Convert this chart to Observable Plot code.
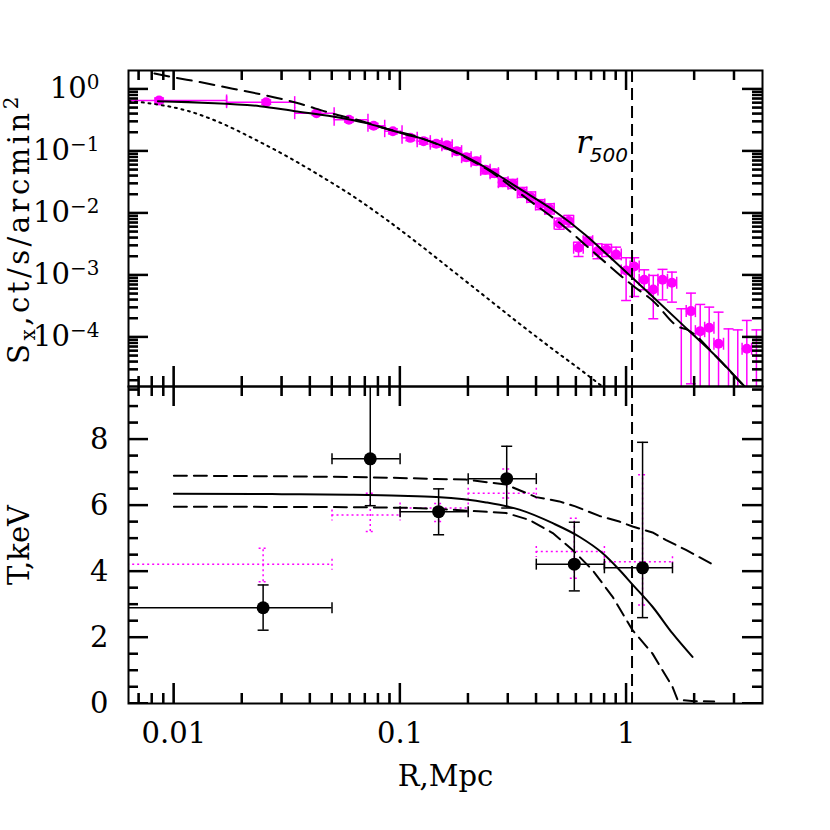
<!DOCTYPE html>
<html><head><meta charset="utf-8">
<script src="https://cdn.jsdelivr.net/npm/d3@7"></script>
<script src="https://cdn.jsdelivr.net/npm/@observablehq/plot@0.6"></script>
<style>
body{margin:0;background:#fff;}
#wrap{position:relative;width:830px;height:830px;background:#fff;}
#wrap > svg{position:absolute;left:0;overflow:visible;background:transparent;}
</style></head><body><div id="wrap"></div>
<script>
// ---------------- data ----------------
const R500 = 1.06;
// surface brightness profile (top panel)
const sbR   = [0.0086,0.0256,0.0427,0.0594,0.0764,0.0929,0.111,0.127,0.1445,0.161,0.178,0.196,0.217,0.238,0.261,0.284,0.315,0.347,0.379,0.416,0.457,0.506,0.556,0.615,0.675,0.746,0.818,0.901,0.998,1.084,1.200,1.316,1.446,1.591,1.75,1.931,2.122,2.325,2.557,2.83,3.11,3.41,3.76];
const sbRlo = [0.003,0.0171,0.0342,0.0511,0.0721,0.0855,0.102,0.119,0.136,0.153,0.17,0.187,0.206,0.227,0.25,0.272,0.3,0.33,0.363,0.397,0.436,0.48,0.53,0.585,0.645,0.71,0.78,0.86,0.95,1.04,1.14,1.26,1.38,1.52,1.67,1.84,2.02,2.22,2.44,2.69,2.96,3.25,3.58];
const sbRhi = [0.0171,0.0342,0.0511,0.0721,0.0855,0.102,0.119,0.136,0.153,0.17,0.187,0.206,0.227,0.25,0.272,0.3,0.33,0.363,0.397,0.436,0.48,0.53,0.585,0.645,0.71,0.78,0.86,0.95,1.04,1.14,1.26,1.38,1.52,1.67,1.84,2.02,2.22,2.44,2.69,2.96,3.25,3.58,3.93];
const sbS   = [0.657,0.617,0.410,0.321,0.257,0.210,0.164,0.145,0.132,0.124,0.100,0.080,0.069,0.050,0.0442,0.0316,0.0298,0.0216,0.0181,0.0138,0.0118,0.0068,0.0075,0.00277,0.00353,0.00244,0.00257,0.00216,0.00119,0.00138,0.000843,0.000588,0.000843,0.000754,8e-6,0.000263,0.000125,0.000142,7.83e-5,8e-6,8e-6,6.5e-5,8e-6];
const sbSlo = [0.60,0.57,0.38,0.295,0.235,0.19,0.148,0.13,0.118,0.11,0.088,0.07,0.06,0.043,0.038,0.027,0.025,0.018,0.015,0.0114,0.0097,0.0055,0.006,0.0020,0.00305,0.00184,0.0020,0.00184,0.00039,0.000453,0.000582,0.000198,0.0004,0.000367,1e-6,1.77e-5,1e-6,1e-6,1e-6,1e-6,1e-6,1e-6,1e-6];
const sbShi = [0.72,0.67,0.44,0.35,0.28,0.23,0.181,0.16,0.147,0.139,0.113,0.091,0.079,0.057,0.051,0.037,0.035,0.026,0.022,0.0165,0.0142,0.0083,0.0092,0.0034,0.0041,0.0032,0.00313,0.00283,0.00191,0.00191,0.00122,0.00099,0.00124,0.00112,0.000287,0.000513,0.000337,0.000305,0.000253,0.000136,0.000131,0.000186,0.000131];
// model curves (top)
const modR  = [0.0085,0.0240,0.0342,0.0504,0.0710,0.0869,0.106,0.122,0.171,0.240,0.337,0.473,0.664,0.841,1.066,1.306,1.835,2.575,3.18,3.6];
const modS  = [0.64,0.532,0.442,0.363,0.283,0.230,0.186,0.164,0.1026,0.054,0.0248,0.01134,0.00437,0.00200,0.000901,0.000453,0.000141,4.37e-5,1.93e-5,1.19e-5];
const dashR = [0.0082,0.0099,0.01303,0.0182,0.0256,0.0348,0.0505,0.0662,0.0869,0.1139,0.171,0.240,0.373,0.524,0.760,1.066,1.306,1.714,1.835,2.575,3.18,3.6];
const dashS = [1.79,1.56,1.30,1.015,0.791,0.603,0.401,0.313,0.230,0.179,0.100,0.052,0.016,0.00633,0.00195,0.000682,0.000391,0.000145,0.000135,4.3e-5,1.9e-5,1.2e-5];
const dotR  = [0.0063,0.0081,0.01138,0.01596,0.0224,0.0315,0.0441,0.0619,0.0869,0.122,0.171,0.240,0.337,0.473,0.664,0.773,0.9];
const dotS  = [0.645,0.58,0.452,0.29,0.16,0.083,0.0406,0.0188,0.0079,0.0031,0.00117,0.00044,0.000165,6.4e-5,2.55e-5,1.66e-5,1.08e-5];
// temperature profile (bottom panel)
const tR    = [0.0248,0.0738,0.148,0.296,0.589,1.18];
const tRlo  = [0.001,0.05,0.1,0.2,0.4,0.8];
const tRhi  = [0.05,0.1,0.2,0.4,0.8,1.6];
const tT    = [2.90,7.41,5.81,6.81,4.22,4.11];
const tTlo  = [2.22,5.99,5.11,5.92,3.41,2.60];
const tThi  = [3.59,10.5,6.50,7.79,5.49,7.91];
const t2T   = [4.22,5.71,5.92,6.37,4.60,4.29];
const t2Tlo = [3.69,5.21,5.51,6.22,3.79,2.98];
const t2Thi = [4.70,6.37,6.06,7.10,5.61,6.93];
const tmR   = [0.01,0.03,0.06,0.1,0.1445,0.24,0.337,0.473,0.62,0.786,0.931,1.066,1.306,1.601,1.962];
const tmT   = [6.35,6.34,6.32,6.29,6.25,6.09,5.87,5.46,5.05,4.55,4.05,3.60,2.93,2.12,1.41];
const tUpR  = [0.01,0.03,0.06,0.1,0.1445,0.196,0.294,0.399,0.506,0.595,0.76,0.931,1.066,1.306,1.5,1.835,2.446];
const tUpT  = [6.90,6.88,6.86,6.83,6.80,6.78,6.63,6.25,6.12,5.97,5.68,5.51,5.36,5.18,4.95,4.65,4.19];
const tLoR  = [0.01,0.05,0.1,0.1445,0.196,0.294,0.373,0.473,0.579,0.709,0.870,1.066,1.306,1.601,1.685,2.0,2.446];
const tLoT  = [5.96,5.95,5.93,5.90,5.84,5.77,5.56,5.16,4.65,4.04,3.23,2.22,1.51,0.50,0.11,0.07,0.06];
// ticks & labels
const xMajor  = [0.01,0.1,1];
const xLabels = ["0.01","0.1","1"];
const sbMajor = [1,0.1,0.01,0.001,0.0001];
const sbLabels= ["10^0","10^-1","10^-2","10^-3","10^-4"];
const tMajor  = [0,2,4,6,8];
const tLabels = ["0","2","4","6","8"];
const tMinor  = [0.5,1,1.5,2.5,3,3.5,4.5,5,5.5,6.5,7,7.5,8.5,9,9.5];
const topYLabel = ["S","x",",ct/s/arcmin","2"];
const botYLabel = "T,keV";
const xLabel    = "R,Mpc";
const rLabel = ["r","500"];

// ---------------- helpers ----------------
const X_DOMAIN = [0.0063, 4.0];
const SB_DOMAIN = [1.6e-5, 2.0];
const T_DOMAIN = [0, 9.6];
const MAG = "#ff00ff";
const FONT = "'DejaVu Serif', serif";
const ML = 128, MR = 68, FRAME_W = 830 - ML - MR;
const TOP_H = 386, TOP_MT = 70, TOP_FH = TOP_H - TOP_MT;
const BOT_H = 444, BOT_MB = 127, BOT_FH = BOT_H - BOT_MB;

function logMinor(decades, lo, hi) {
  const out = [];
  for (const d of decades) for (let m = 2; m <= 9; m++) {
    const v = +(m * d).toPrecision(3);
    if (v > lo && v < hi) out.push(v);
  }
  return out;
}
const xMinor = logMinor([0.001,0.01,0.1,1], X_DOMAIN[0], X_DOMAIN[1]);
const sbMinor = logMinor([1e-5,1e-4,1e-3,1e-2,1e-1,1], SB_DOMAIN[0], SB_DOMAIN[1]);

const seg = (x1, y1, x2, y2) => ({draw(ctx) { ctx.moveTo(x1, y1); ctx.lineTo(x2, y2); }});
const hCap = (w) => seg(-w / 2, 0, w / 2, 0);
const vCap = (h) => seg(0, -h / 2, 0, h / 2);

// pixel lengths expressed in data units (for inward tick lengths)
const xOff = (v, px) => v * Math.pow(X_DOMAIN[1] / X_DOMAIN[0], px / FRAME_W);
const sbOff = (v, px) => v * Math.pow(SB_DOMAIN[1] / SB_DOMAIN[0], px / TOP_FH);
const tOff = (v, px) => v + (T_DOMAIN[1] - T_DOMAIN[0]) * px / BOT_FH;

function tickMarks(yDom, yOff, yMaj, yMin) {
  const vx = [], hy = [];
  for (const [ticks, len] of [[xMajor, 20], [xMinor, 10]]) for (const v of ticks) {
    vx.push({x: v, y1: yDom[0], y2: yOff(yDom[0], len)});
    vx.push({x: v, y1: yOff(yDom[1], -len), y2: yDom[1]});
  }
  for (const [ticks, len] of [[yMaj, 20], [yMin, 10]]) for (const v of ticks) {
    hy.push({y: v, x1: X_DOMAIN[0], x2: xOff(X_DOMAIN[0], len)});
    hy.push({y: v, x1: xOff(X_DOMAIN[1], -len), x2: X_DOMAIN[1]});
  }
  return [
    Plot.ruleX(vx, {x: "x", y1: "y1", y2: "y2", stroke: "#000", strokeWidth: 2, clip: true}),
    Plot.ruleY(hy, {y: "y", x1: "x1", x2: "x2", stroke: "#000", strokeWidth: 2, clip: true})
  ];
}

const sb = sbR.map((r, i) => ({r, rlo: sbRlo[i], rhi: sbRhi[i], s: sbS[i], slo: sbSlo[i], shi: sbShi[i]}));
const tk = tR.map((r, i) => ({r, rlo: tRlo[i], rhi: tRhi[i], t: tT[i], tlo: tTlo[i], thi: tThi[i], t2: t2T[i], t2lo: t2Tlo[i], t2hi: t2Thi[i]}));
const zip = (a, b) => a.map((x, i) => ({x, y: b[i]}));

const plotStyle = {fontFamily: FONT, fontSize: "29px", background: "transparent", overflow: "visible", color: "#000"};

// ---------------- top panel ----------------
const magE = {stroke: MAG, strokeWidth: 1.5, clip: true};
const topPlot = Plot.plot({
  width: 830, height: TOP_H,
  marginTop: TOP_MT, marginBottom: 0, marginLeft: ML, marginRight: MR,
  x: {type: "log", domain: X_DOMAIN, axis: null},
  y: {type: "log", domain: SB_DOMAIN},
  style: plotStyle,
  marks: [
    Plot.ruleY(sb, {y: "s", x1: "rlo", x2: "rhi", ...magE}),
    Plot.ruleX(sb, {x: "r", y1: "slo", y2: "shi", ...magE}),
    Plot.dot(sb, {x: "rlo", y: "s", symbol: vCap(12), fill: "none", ...magE}),
    Plot.dot(sb, {x: "rhi", y: "s", symbol: vCap(12), fill: "none", ...magE}),
    Plot.dot(sb, {x: "r", y: "slo", symbol: hCap(10), fill: "none", ...magE}),
    Plot.dot(sb, {x: "r", y: "shi", symbol: hCap(10), fill: "none", ...magE}),
    Plot.dot(sb, {x: "r", y: "s", r: 5, fill: MAG, stroke: "none", clip: true}),
    Plot.line(zip(dotR, dotS), {x: "x", y: "y", stroke: "#000", strokeWidth: 2, strokeDasharray: "2,4.7", curve: "monotone-x", clip: true}),
    Plot.line(zip(dashR, dashS), {x: "x", y: "y", stroke: "#000", strokeWidth: 2, strokeDasharray: "15,8", curve: "monotone-x", clip: true}),
    Plot.line(zip(modR, modS), {x: "x", y: "y", stroke: "#000", strokeWidth: 2, curve: "monotone-x", clip: true}),
    Plot.ruleX([R500], {stroke: "#000", strokeWidth: 2, strokeDasharray: "12,6"}),
    Plot.text([rLabel[0]], {x: () => R500, y: () => 0.0921, text: d => d, textAnchor: "end", lineAnchor: "bottom", dx: -41, fontFamily: "'DejaVu Serif', serif", fontStyle: "italic", fontSize: 31}),
    Plot.text([rLabel[1]], {x: () => R500, y: () => 0.0665, text: d => d, textAnchor: "end", lineAnchor: "bottom", dx: -4, fontFamily: "'DejaVu Sans', sans-serif", fontStyle: "italic", fontSize: 20}),
    tickMarks(SB_DOMAIN, sbOff, sbMajor, sbMinor),
    Plot.axisY({anchor: "left", ticks: sbMajor, tickSize: 0, tickPadding: 29, tickFormat: d => sbLabels[sbMajor.indexOf(d)], label: null}),
    Plot.frame({stroke: "#000", strokeWidth: 2}),
    Plot.text([topYLabel.join("")], {frameAnchor: "left", dx: -100, rotate: -90, lineAnchor: "bottom", textAnchor: "middle", text: d => d, fontSize: 29})
  ]
});

// ---------------- bottom panel ----------------
const magD = {stroke: MAG, strokeWidth: 1.5, strokeDasharray: "2,3", clip: true};
const blk = {stroke: "#000", strokeWidth: 1.5, clip: true};
const botPlot = Plot.plot({
  width: 830, height: BOT_H,
  marginTop: 0, marginBottom: BOT_MB, marginLeft: ML, marginRight: MR,
  x: {type: "log", domain: X_DOMAIN},
  y: {domain: T_DOMAIN},
  style: plotStyle,
  marks: [
    Plot.ruleY(tk, {y: "t2", x1: "rlo", x2: "rhi", ...magD}),
    Plot.ruleX(tk, {x: "r", y1: "t2lo", y2: "t2hi", ...magD}),
    Plot.dot(tk, {x: "rlo", y: "t2", symbol: vCap(11), fill: "none", ...magD}),
    Plot.dot(tk, {x: "rhi", y: "t2", symbol: vCap(11), fill: "none", ...magD}),
    Plot.dot(tk, {x: "r", y: "t2lo", symbol: hCap(9), fill: "none", ...magD}),
    Plot.dot(tk, {x: "r", y: "t2hi", symbol: hCap(9), fill: "none", ...magD}),
    Plot.line(zip(tUpR, tUpT), {x: "x", y: "y", stroke: "#000", strokeWidth: 2, strokeDasharray: "13,7", clip: true}),
    Plot.line(zip(tLoR, tLoT), {x: "x", y: "y", stroke: "#000", strokeWidth: 2, strokeDasharray: "13,7", clip: true}),
    Plot.line(zip(tmR, tmT), {x: "x", y: "y", stroke: "#000", strokeWidth: 2, curve: "monotone-x", clip: true}),
    Plot.ruleY(tk, {y: "t", x1: "rlo", x2: "rhi", ...blk}),
    Plot.ruleX(tk, {x: "r", y1: "tlo", y2: "thi", ...blk}),
    Plot.dot(tk, {x: "rlo", y: "t", symbol: vCap(11), fill: "none", ...blk}),
    Plot.dot(tk, {x: "rhi", y: "t", symbol: vCap(11), fill: "none", ...blk}),
    Plot.dot(tk, {x: "r", y: "tlo", symbol: hCap(11), fill: "none", ...blk}),
    Plot.dot(tk, {x: "r", y: "thi", symbol: hCap(11), fill: "none", ...blk}),
    Plot.dot(tk, {x: "r", y: "t", r: 6.5, fill: "#000", stroke: "none", clip: true}),
    Plot.ruleX([R500], {stroke: "#000", strokeWidth: 2, strokeDasharray: "12,6"}),
    tickMarks(T_DOMAIN, tOff, tMajor, tMinor),
    Plot.axisY({anchor: "left", ticks: tMajor, tickSize: 0, tickPadding: 20, tickFormat: d => tLabels[tMajor.indexOf(d)], label: null}),
    Plot.axisX({anchor: "bottom", ticks: xMajor, tickSize: 0, tickPadding: 19, tickFormat: d => xLabels[xMajor.indexOf(d)], label: null}),
    Plot.frame({stroke: "#000", strokeWidth: 2}),
    Plot.text([botYLabel], {frameAnchor: "left", dx: -100, rotate: -90, lineAnchor: "bottom", textAnchor: "middle", text: d => d, fontSize: 29}),
    Plot.text([xLabel], {frameAnchor: "bottom", dy: 82, lineAnchor: "bottom", textAnchor: "middle", text: d => d, fontSize: 29})
  ]
});

// ---------------- extra safety: inward frame ticks placed with the plots' own scales ----------------
function addTicks(fig, yDom, yMaj, yMin) {
  const sx = fig.scale("x"), sy = fig.scale("y");
  const xl = sx.apply(X_DOMAIN[0]), xr = sx.apply(X_DOMAIN[1]);
  const yb = sy.apply(yDom[0]), yt = sy.apply(yDom[1]);
  const segs = [];
  for (const [ticks, len] of [[xMajor, 20], [xMinor, 10]]) for (const v of ticks) {
    const X = sx.apply(v);
    segs.push([X, yb, X, yb - len], [X, yt, X, yt + len]);
  }
  for (const [ticks, len] of [[yMaj, 20], [yMin, 10]]) for (const v of ticks) {
    const Y = sy.apply(v);
    segs.push([xl, Y, xl + len, Y], [xr, Y, xr - len, Y]);
  }
  const g = d3.select(fig).append("g").attr("aria-label", "frame ticks")
    .attr("stroke", "#000").attr("stroke-width", 2).attr("fill", "none");
  g.selectAll("line").data(segs).join("line")
    .attr("x1", d => d[0]).attr("y1", d => d[1]).attr("x2", d => d[2]).attr("y2", d => d[3]);
}
try { addTicks(topPlot, SB_DOMAIN, sbMajor, sbMinor); } catch (e) { console.error(e); }
try { addTicks(botPlot, T_DOMAIN, tMajor, tMinor); } catch (e) { console.error(e); }

// ---------------- rich text (super/subscripts) ----------------
function richText(svg) {
  d3.select(svg).selectAll("text").each(function() {
    const t = this.textContent;
    const m = /^10\^(.+)$/.exec(t);
    if (m) {
      const s = d3.select(this).text(null);
      s.append("tspan").text("10");
      s.append("tspan").attr("dy", -9).attr("font-size", "20px").text(m[1].replace("-", "\u2212"));
    } else if (t === topYLabel.join("")) {
      const s = d3.select(this).text(null).attr("letter-spacing", "3.5px");
      s.append("tspan").text(topYLabel[0]);
      s.append("tspan").attr("dy", 6).attr("font-size", "20px").text(topYLabel[1]);
      s.append("tspan").attr("dy", -6).text(topYLabel[2]);
      s.append("tspan").attr("dy", -11).attr("font-size", "20px").text(topYLabel[3]);
    }
  });
}
richText(topPlot);
richText(botPlot);

const wrap = document.getElementById("wrap");
topPlot.style.top = "0px";
botPlot.style.top = "386px";
wrap.appendChild(topPlot);
wrap.appendChild(botPlot);
</script></body></html>
